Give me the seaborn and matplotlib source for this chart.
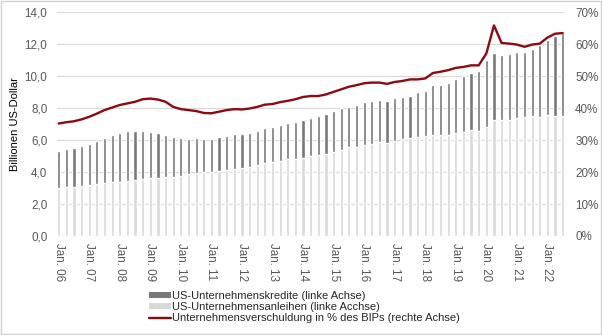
import numpy as np
import pandas as pd
import matplotlib
matplotlib.use("Agg")
import matplotlib.pyplot as plt
from matplotlib.patches import Patch, Rectangle
from matplotlib.lines import Line2D
from matplotlib.ticker import FuncFormatter, MultipleLocator
import seaborn as sns

# ---------------- data ----------------
years = [f"{y:02d}" for y in range(6, 23)]
quarters = [f"{y}Q{q}" for y in years for q in range(1, 5)][:67]

bonds = [3.02, 3.06, 3.08, 3.12, 3.19, 3.25, 3.33, 3.38, 3.40, 3.44, 3.48, 3.54,
         3.60, 3.65, 3.71, 3.71, 3.77, 3.90, 3.96, 4.00, 4.00, 4.08, 4.15, 4.21,
         4.27, 4.33, 4.46, 4.54, 4.60, 4.69, 4.83, 4.83, 4.90, 5.02, 5.06, 5.15,
         5.27, 5.38, 5.56, 5.58, 5.69, 5.77, 5.90, 5.83, 5.96, 6.04, 6.15, 6.21,
         6.25, 6.29, 6.33, 6.33, 6.46, 6.52, 6.63, 6.56, 6.83, 7.25, 7.25, 7.25,
         7.38, 7.46, 7.50, 7.46, 7.56, 7.52, 7.52]
loans = [2.29, 2.38, 2.44, 2.51, 2.56, 2.69, 2.80, 2.93, 3.06, 3.12, 3.08, 3.02,
         2.90, 2.77, 2.60, 2.50, 2.38, 2.16, 2.19, 2.06, 2.06, 2.13, 2.12, 2.17,
         2.11, 2.13, 2.10, 2.23, 2.23, 2.25, 2.23, 2.30, 2.35, 2.36, 2.42, 2.50,
         2.54, 2.62, 2.50, 2.61, 2.69, 2.69, 2.60, 2.63, 2.67, 2.69, 2.60, 2.79,
         2.83, 3.13, 3.15, 3.27, 3.39, 3.52, 3.60, 3.77, 4.21, 4.19, 4.06, 4.13,
         4.16, 4.08, 4.23, 4.48, 4.69, 5.00, 5.19]
debt_gdp = [35.2, 35.6, 35.9, 36.5, 37.3, 38.3, 39.4, 40.2, 41.0, 41.5, 42.0, 42.8,
            43.0, 42.7, 42.0, 40.4, 39.7, 39.4, 39.1, 38.5, 38.4, 38.9, 39.4, 39.7,
            39.6, 39.9, 40.4, 41.1, 41.3, 41.9, 42.3, 42.8, 43.5, 43.8, 43.8, 44.3,
            45.1, 45.9, 46.7, 47.2, 47.8, 48.0, 48.0, 47.6, 48.2, 48.5, 49.0, 49.0,
            49.3, 51.0, 51.4, 51.9, 52.6, 52.9, 53.4, 53.4, 57.1, 65.9, 60.4, 60.2,
            59.9, 59.2, 59.9, 60.2, 62.1, 63.3, 63.5]
tick_labels = [f"Jan. {y}" for y in years]

labels_legend = ["US-Unternehmenskredite (linke Achse)",
                 "US-Unternehmensanleihen (linke Acchse)",
                 "Unternehmensverschuldung in % des BIPs (rechte Achse)"]

df = pd.DataFrame({"quarter": quarters, "bonds": bonds, "loans": loans,
                   "pct": debt_gdp})
df["total"] = df["bonds"] + df["loans"]
df["pos"] = np.arange(len(df))

# ---------------- style ----------------
sns.set_theme(style="white")
plt.rcParams["font.family"] = ["Liberation Sans", "DejaVu Sans"]

c_dark = "#787878"
c_light = "#d9d9d9"
c_red = "#8b0a14"
c_grid = "#d9d9d9"
c_tick = "#595959"
fs_tick = 8.4
fs_leg = 8.0
fs_lab = 8.0

fig = plt.figure(figsize=(6.02, 3.35), dpi=100)
ax = fig.add_axes([57 / 602, 1 - 236 / 335, (564 - 57) / 602, (236 - 12.3) / 335])

sns.barplot(data=df, x="quarter", y="total", order=quarters, color=c_dark,
            width=0.42, saturation=1, ax=ax, zorder=3)
sns.barplot(data=df, x="quarter", y="bonds", order=quarters, color=c_light,
            width=0.42, saturation=1, ax=ax, zorder=3)

ax.set_xlim(-0.22, 66.17)
ax.set_ylim(0, 14)
ax.yaxis.set_major_locator(MultipleLocator(2))
ax.yaxis.set_major_formatter(FuncFormatter(lambda v, p: f"{v:.1f}".replace(".", ",")))
ax.grid(axis="y", color=c_grid, linewidth=0.9, zorder=0)
ax.set_axisbelow(True)
for s in ax.spines.values():
    s.set_visible(False)
ax.axhline(0, color=c_grid, linewidth=0.9, zorder=1)

ax.set_xticks(np.arange(0, len(quarters), 4))
ax.set_xticklabels(tick_labels, rotation=-90, fontsize=fs_tick, color=c_tick,
                   va="top", ha="center")
ax.tick_params(axis="x", length=0, pad=5)
ax.tick_params(axis="y", length=0, pad=7, labelsize=fs_tick, labelcolor=c_tick)
ax.set_xlabel("")
ax.set_ylabel("Billionen US-Dollar", fontsize=fs_lab, color="black")
ax.yaxis.set_label_coords(-0.072, 0.5)

ax2 = ax.twinx()
sns.lineplot(data=df, x="pos", y="pct", color=c_red, linewidth=1.7, ax=ax2, zorder=4)
ax2.set_ylim(0, 70)
ax2.set_xlim(-0.22, 66.17)
ax2.yaxis.set_major_locator(MultipleLocator(10))
ax2.yaxis.set_major_formatter(FuncFormatter(lambda v, p: f"{v:.0f}%"))
ax2.tick_params(axis="y", length=0, pad=8, labelsize=fs_tick, labelcolor=c_tick)
ax2.set_ylabel("")
ax2.set_xlabel("")
for s in ax2.spines.values():
    s.set_visible(False)

handles = [Patch(facecolor=c_dark, edgecolor="none"),
           Patch(facecolor=c_light, edgecolor="none"),
           Line2D([0], [0], color=c_red, linewidth=1.7)]
fig.legend(handles, labels_legend, loc="upper left",
           bbox_to_anchor=(141 / 602, 1 - 283 / 335), frameon=False,
           fontsize=fs_leg, handlelength=2.0, handleheight=0.4, handletextpad=0.05,
           labelspacing=0.1, borderpad=0.2)

fig.patches.append(Rectangle((0.001, 0.003), 0.997, 0.994, transform=fig.transFigure,
                             fill=False, edgecolor="#d0d0d0", linewidth=1.0))

fig.savefig("out.png", dpi=100, facecolor="white")
